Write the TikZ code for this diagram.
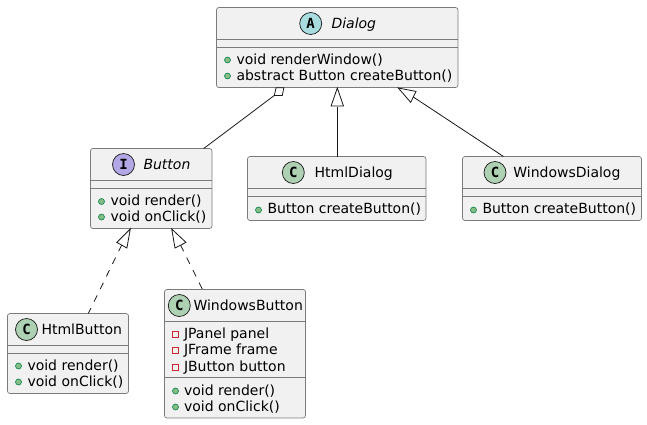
\documentclass[tikz,border=0pt]{standalone}
\usepackage{fontspec}
\setmainfont{DejaVu Sans}
\newfontfamily\iconfont{DejaVu Sans Mono}
\definecolor{boxfill}{HTML}{F1F1F1}
\definecolor{boxline}{HTML}{7B7B7B}
\definecolor{lineink}{HTML}{181818}
\definecolor{iconC}{HTML}{ADD1B2}
\definecolor{iconA}{HTML}{A9DCDF}
\definecolor{iconI}{HTML}{B4A7E5}
\definecolor{pubfill}{HTML}{84BE84}
\definecolor{publine}{HTML}{038048}
\definecolor{privline}{HTML}{C82930}
\tikzset{
  x=1pt,y=-1pt,
  txt/.style={anchor=base west,inner sep=0pt,outer sep=0pt,font=\fontsize{14}{16}\selectfont,text=black},
  titleit/.style={txt,font=\fontsize{14}{16}\selectfont\itshape},
  icon/.style={circle,draw=lineink,line width=0.7pt,minimum size=22pt,inner sep=0pt,font=\fontsize{14}{16}\iconfont\bfseries},
  pubdot/.style={circle,fill=pubfill,draw=publine,line width=0.6pt,minimum size=6pt,inner sep=0pt},
  privdot/.style={rectangle,draw=privline,line width=0.7pt,minimum size=6pt,inner sep=0pt},
  classbody/.style={rectangle,draw=boxline,fill=boxfill,line width=0.7pt,rounded corners=2.5pt,inner sep=0pt,outer sep=0pt,anchor=north west},
  sep/.style={draw=boxline,line width=0.7pt},
  link/.style={draw=lineink,line width=0.8pt},
  dashedlink/.style={link,dash pattern=on 7pt off 7pt},
  hollow/.style={draw=lineink,fill=white,line width=0.8pt,line join=miter},
}
% name, x1, y1, x2, y2, sep1, sep2
\newcommand{\classframe}[7]{%
  \node[classbody,minimum width=#4pt-#2pt,minimum height=#5pt-#3pt] (#1) at (#2,#3) {};
  \draw[sep] (#2,#6) -- (#4,#6);
  \draw[sep] (#2,#7) -- (#4,#7);
}
\begin{document}
\begin{tikzpicture}
\useasboundingbox (0,0) rectangle (647,424);
\fill[white] (0,0) rectangle (647,424);

\classframe{dialog}{216.5}{7.5}{458}{87.5}{39.5}{47.5}
\classframe{button}{90.5}{148.5}{212}{228.5}{180.5}{188.5}
\classframe{htmldialog}{247.5}{156.5}{426}{220.5}{188.5}{196.5}
\classframe{windowsdialog}{462.5}{156.5}{641.5}{220.5}{188.5}{196.5}
\classframe{htmlbutton}{7.5}{313.5}{128.5}{393.5}{345.5}{353.5}
\classframe{windowsbutton}{164.5}{289.5}{305.5}{418}{321.5}{377.5}

% Dialog
\node[icon,fill=iconA] (icA) at (310.7,23.5) {A};
\node[titleit] (tA) at (331.5,28) {Dialog};
\node[pubdot] (d1) at (227.5,60) {};
\node[txt] (t1) at (236.5,64.5) {void renderWindow()};
\node[pubdot] (d2) at (227.5,76) {};
\node[txt] (t2) at (236.5,80.5) {abstract Button createButton()};

% Button
\node[icon,fill=iconI] (icI) at (123.5,164.5) {I};
\node[titleit] (tI) at (143.5,169) {Button};
\node[pubdot] (d3) at (101.5,201.5) {};
\node[txt] (t3) at (110.5,205.5) {void render()};
\node[pubdot] (d4) at (101.5,217) {};
\node[txt] (t4) at (110.5,221.5) {void onClick()};

% HtmlDialog
\node[icon,fill=iconC] (icC1) at (293.3,172.5) {C};
\node[txt] (tC1) at (314.7,177) {HtmlDialog};
\node[pubdot] (d5) at (258.5,210) {};
\node[txt] (t5) at (267.5,213.5) {Button createButton()};

% WindowsDialog
\node[icon,fill=iconC] (icC2) at (495,172.5) {C};
\node[txt] (tC2) at (513.3,177) {WindowsDialog};
\node[pubdot] (d6) at (473.5,210) {};
\node[txt] (t6) at (482.5,213.5) {Button createButton()};

% HtmlButton
\node[icon,fill=iconC] (icC3) at (26.5,329.5) {C};
\node[txt] (tC3) at (41.5,334) {HtmlButton};
\node[pubdot] (d7) at (18.5,366) {};
\node[txt] (t7) at (27.5,370.5) {void render()};
\node[pubdot] (d8) at (18.5,382) {};
\node[txt] (t8) at (27.5,386.5) {void onClick()};

% WindowsButton
\node[icon,fill=iconC] (icC4) at (179.3,305.5) {C};
\node[txt] (tC4) at (193.5,310) {WindowsButton};
\node[privdot] (p1) at (175.5,334.5) {};
\node[txt] (t9) at (184,338.5) {JPanel panel};
\node[privdot] (p2) at (175.5,350.5) {};
\node[txt] (t10) at (184,354.5) {JFrame frame};
\node[privdot] (p3) at (175.5,367) {};
\node[txt] (t11) at (184,371) {JButton button};
\node[pubdot] (d9) at (175.5,391) {};
\node[txt] (t12) at (184,395) {void render()};
\node[pubdot] (d10) at (175.5,407) {};
\node[txt] (t13) at (184,411) {void onClick()};

% connector ends, fixed on the named boxes
\coordinate (aggTail) at ([shift={(57.8,8)}]dialog.south west);
\coordinate (btnTop) at ([shift={(113.2,0)}]button.north west);
\coordinate (hdTop) at ([shift={(89.8,0)}]htmldialog.north west);
\coordinate (wdTop) at ([shift={(41,0)}]windowsdialog.north west);
\coordinate (hbTop) at ([shift={(80.8,0)}]htmlbutton.north west);
\coordinate (wbTop) at ([shift={(38,0)}]windowsbutton.north west);
\coordinate (tipHd) at ([shift={(120.8,0.5)}]dialog.south west);
\coordinate (tipWd) at ([shift={(181.8,0.5)}]dialog.south west);
\coordinate (tipHb) at ([shift={(39.8,0.5)}]button.south west);
\coordinate (tipWb) at ([shift={(81.2,0.5)}]button.south west);

% aggregation
\draw[link] (aggTail) -- (btnTop);
\draw[hollow] ([shift={(67.3,0.3)}]dialog.south west) -- ([shift={(65.8,8)}]dialog.south west) -- (aggTail) -- ([shift={(59.6,0.3)}]dialog.south west) -- cycle;

% generalisation Dialog <- HtmlDialog
\draw[link] ([shift={(0,18.5)}]tipHd) -- (hdTop);
\draw[hollow] (tipHd) -- ++(-6.2,18) -- ++(12.4,0) -- cycle;

% generalisation Dialog <- WindowsDialog
\draw[link] ([shift={(15,9)}]tipWd) -- (wdTop);
\draw[hollow] (tipWd) -- ++(17.7,3.4) -- ++(-5.3,11) -- cycle;

% realisation Button <- HtmlButton
\draw[dashedlink] ([shift={(-8.6,16)}]tipHb) -- (hbTop);
\draw[hollow] (tipHb) -- ++(-13.4,13.4) -- ++(10,5.6) -- cycle;

% realisation Button <- WindowsButton
\draw[dashedlink] ([shift={(8.8,16)}]tipWb) -- (wbTop);
\draw[hollow] (tipWb) -- ++(14.3,13.4) -- ++(-11,5.6) -- cycle;
\end{tikzpicture}
\end{document}
